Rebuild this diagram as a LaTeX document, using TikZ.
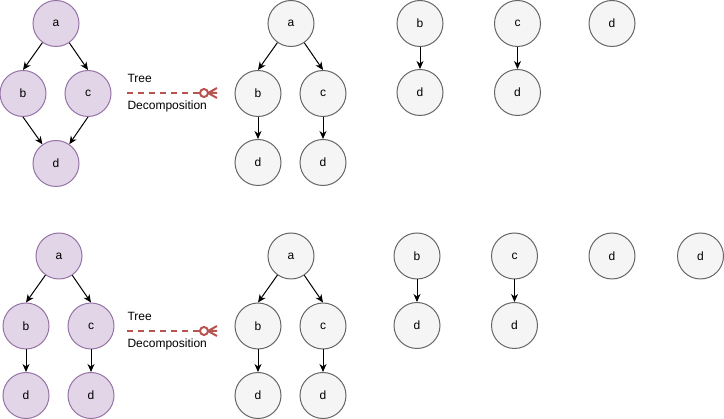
\documentclass[tikz,border=0pt]{standalone}
\usepackage{fontspec}
\setmainfont{Liberation Sans}
\usepackage{tikz}
\usetikzlibrary{arrows.meta}
\definecolor{purplefill}{HTML}{E1D5E7}
\definecolor{purpleline}{HTML}{9673A6}
\definecolor{greyfill}{HTML}{F5F5F5}
\definecolor{greyline}{HTML}{666666}
\definecolor{cutred}{HTML}{B85450}
\tikzstyle{pointpurple}=[circle, draw=purpleline, fill=purplefill, line width=1pt, minimum size=46pt, inner sep=0pt, font=\fontsize{12}{14}\selectfont]
\tikzstyle{pointgrey}=[circle, draw=greyline, fill=greyfill, line width=1pt, minimum size=46pt, inner sep=0pt, font=\fontsize{12}{14}\selectfont]
\tikzstyle{label}=[anchor=west, inner sep=0pt, font=\fontsize{12}{14}\selectfont]
\tikzstyle{cutline}=[draw=cutred, line width=2pt, dash pattern=on 6pt off 5pt]
\tikzstyle{cutfoot}=[draw=cutred, line width=2pt, fill=white]

\begin{document}
\begin{tikzpicture}[x=1pt, y=-1pt, >={Stealth[length=8pt, width=7pt, inset=2.5pt]}, line width=1pt]
		   \useasboundingbox (0,0) rectangle (724,419);
		   % top graph
		   \begin{scope}
			   \node (0) at (56, 23.5)[pointpurple] {a};
			   \node (1) at (23, 93.5)[pointpurple] {b};
			   \node (2) at (88, 93.5)[pointpurple] {c};
			   \node (3) at (56, 163.5)[pointpurple] {d};
		   \end{scope}
		   \begin{scope}
			   \path [->] (0) edge (1.north);
			   \path [->] (0) edge (2.north);
			   \path [->] (1.south) edge (3);
			   \path [->] (2.south) edge (3);
		   \end{scope}
		   % top decomposition
		   \begin{scope}
			   \node (4) at (291, 23.5)[pointgrey] {a};
			   \node (5) at (258, 93.5)[pointgrey] {b};
			   \node (6) at (323, 93.5)[pointgrey] {c};
			   \node (7) at (258, 162.5)[pointgrey] {d};
			   \node (8) at (323, 162.5)[pointgrey] {d};
			   \node (9) at (420, 23.5)[pointgrey] {b};
			   \node (10) at (420, 92.5)[pointgrey] {d};
			   \node (11) at (517.5, 23.5)[pointgrey] {c};
			   \node (12) at (517.5, 92.5)[pointgrey] {d};
			   \node (13) at (612, 23.5)[pointgrey] {d};
		   \end{scope}
		   \begin{scope}
			   \path [->] (4) edge (5.north);
			   \path [->] (4) edge (6.north);
			   \path [->] (5) edge (7);
			   \path [->] (6) edge (8);
			   \path [->] (9) edge (10);
			   \path [->] (11) edge (12);
		   \end{scope}
		   % bottom graph
		   \begin{scope}
			   \node (14) at (59, 256)[pointpurple] {a};
			   \node (15) at (26, 326)[pointpurple] {b};
			   \node (16) at (91, 326)[pointpurple] {c};
			   \node (17) at (26, 395.5)[pointpurple] {d};
			   \node (18) at (91, 395.5)[pointpurple] {d};
		   \end{scope}
		   \begin{scope}
			   \path [->] (14) edge (15.north);
			   \path [->] (14) edge (16.north);
			   \path [->] (15) edge (17);
			   \path [->] (16) edge (18);
		   \end{scope}
		   % bottom decomposition
		   \begin{scope}
			   \node (19) at (291, 256)[pointgrey] {a};
			   \node (20) at (258, 326)[pointgrey] {b};
			   \node (21) at (323, 326)[pointgrey] {c};
			   \node (22) at (258, 395.5)[pointgrey] {d};
			   \node (23) at (323, 395.5)[pointgrey] {d};
			   \node (24) at (417, 256)[pointgrey] {b};
			   \node (25) at (417, 325.5)[pointgrey] {d};
			   \node (26) at (514.5, 256)[pointgrey] {c};
			   \node (27) at (514.5, 325.5)[pointgrey] {d};
			   \node (28) at (612, 256)[pointgrey] {d};
			   \node (29) at (700.5, 256)[pointgrey] {d};
		   \end{scope}
		   \begin{scope}
			   \path [->] (19) edge (20.north);
			   \path [->] (19) edge (21.north);
			   \path [->] (20) edge (22);
			   \path [->] (21) edge (23);
			   \path [->] (24) edge (25);
			   \path [->] (26) edge (27);
		   \end{scope}
		   % tree decomposition arrows
		   \begin{scope}
			   \node (30) at (127, 78)[label] {Tree};
			   \node (31) at (127, 106)[label] {Decomposition};
			   \coordinate (32) at (127, 93);
			   \coordinate (33) at (217, 93);
			   \path [cutline] (32) -- ([xshift=-17pt]33);
			   \path [cutfoot] ([xshift=-13pt]33) circle (4pt);
			   \path [cutfoot] ([xshift=-9pt]33) -- (33) ([xshift=-9pt]33) -- ([yshift=-5pt]33) ([xshift=-9pt]33) -- ([yshift=5pt]33);
			   \node (34) at (127, 316)[label] {Tree};
			   \node (35) at (127, 344)[label] {Decomposition};
			   \coordinate (36) at (127, 331);
			   \coordinate (37) at (217, 331);
			   \path [cutline] (36) -- ([xshift=-17pt]37);
			   \path [cutfoot] ([xshift=-13pt]37) circle (4pt);
			   \path [cutfoot] ([xshift=-9pt]37) -- (37) ([xshift=-9pt]37) -- ([yshift=-5pt]37) ([xshift=-9pt]37) -- ([yshift=5pt]37);
		   \end{scope}
	   \end{tikzpicture}
\end{document}
